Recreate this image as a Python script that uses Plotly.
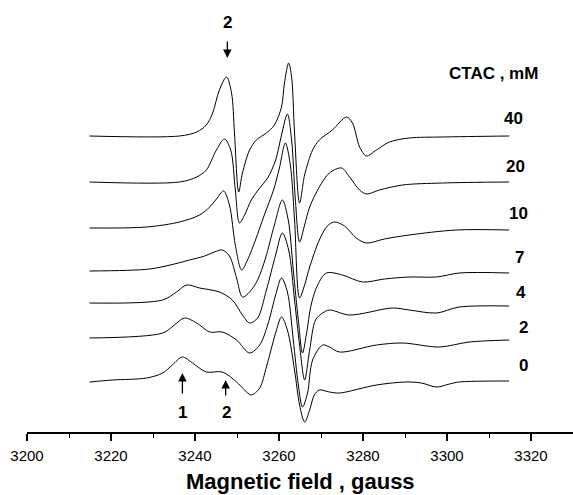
import plotly.graph_objects as go

# CTAC concentrations (mM) labelling each spectrum, top to bottom
CTAC = ["40", "20", "10", "7", "4", "2", "0"]
# vertical offset of each spectrum baseline (arbitrary units)
OFFSETS = [296, 250, 204, 161, 129, 94, 50]

FIELD_40 = [3214.9, 3236.3, 3240.4, 3242.7, 3244.2, 3245.8, 3247.5, 3248.7, 3249.4, 3250.4,
            3251.3, 3253.0, 3254.6, 3257.0, 3258.9, 3260.6, 3261.3, 3262.3, 3263.0, 3263.7,
            3264.9, 3266.1, 3268.0, 3269.6, 3272.7, 3276.1, 3277.5, 3279.2, 3280.8, 3283.2,
            3286.3, 3291.0, 3298.9, 3314.8]
SIG_40 = [0, 0, 4, 11, 23, 46, 59, 43, 3, -56,
          -37, -14, -4, 3, 11, 29, 53, 73, 59, 3,
          -67, -39, -14, -4, 6, 19, 13, -11, -20, -14,
          -6, -2, -1, 0]

FIELD_20 = [3214.9, 3236.3, 3240.4, 3242.7, 3245.1, 3247.0, 3248.5, 3249.6, 3250.6, 3251.8,
            3253.4, 3255.4, 3257.3, 3259.2, 3260.6, 3262.0, 3263.0, 3263.9, 3264.9, 3266.1,
            3267.3, 3269.6, 3272.0, 3274.9, 3276.8, 3279.2, 3280.8, 3283.9, 3289.4, 3298.9,
            3314.8]
SIG_20 = [0, 0, 5, 12, 32, 43, 32, -8, -41, -33,
          -18, -6, 4, 22, 47, 68, 42, -18, -60, -43,
          -25, -5, 9, 14, 5, -8, -12, -8, -3, -1,
          0]

FIELD_10 = [3214.9, 3228.5, 3236.3, 3241.1, 3243.5, 3245.1, 3246.8, 3248.2, 3249.6, 3251.1,
            3252.5, 3254.4, 3256.5, 3258.7, 3260.1, 3261.5, 3262.7, 3263.7, 3264.9, 3266.1,
            3267.3, 3269.6, 3271.5, 3273.2, 3275.6, 3278.4, 3280.8, 3285.1, 3291.0, 3302.2,
            3314.8]
SIG_10 = [0, 1, 6, 13, 21, 29, 37, 23, -17, -42,
          -32, -12, 13, 38, 60, 85, 63, 8, -70, -57,
          -39, -12, 2, 6, 2, -10, -15, -11, -7, -2,
          -2]

FIELD_7 = [3214.9, 3229.2, 3235.1, 3238.7, 3242.3, 3244.6, 3246.5, 3248.2, 3249.9, 3251.3,
           3253.0, 3254.9, 3256.8, 3258.9, 3260.8, 3262.2, 3263.4, 3264.6, 3265.6, 3266.5,
           3267.7, 3269.2, 3271.3, 3275.1, 3279.9, 3285.1, 3291.0, 3297.5, 3302.9, 3314.8]
SIG_7 = [0, 2, 7, 11, 15, 19, 21, 15, -7, -26,
         -21, -9, 13, 46, 71, 51, 1, -49, -82, -64,
         -33, -14, -2, -4, -11, -8, -6, -6, -2, -2]

FIELD_4 = [3214.9, 3232.3, 3235.6, 3238.0, 3241.1, 3245.8, 3248.9, 3251.3, 3253.0, 3254.9,
           3257.0, 3259.2, 3260.8, 3262.3, 3263.7, 3264.9, 3266.1, 3267.3, 3268.7, 3270.4,
           3272.0, 3276.8, 3287.0, 3291.0, 3297.5, 3302.9, 3314.8]
SIG_4 = [0, 3, 11, 18, 15, 11, 3, -12, -20, -15,
         13, 48, 70, 53, 3, -42, -77, -47, -17, -10,
         -7, -12, -5, -7, -10, -4, -3]

FIELD_2 = [3214.9, 3232.3, 3235.1, 3237.5, 3240.4, 3243.5, 3246.5, 3249.9, 3253.0, 3255.4,
           3257.3, 3259.2, 3260.6, 3262.0, 3263.4, 3264.6, 3265.6, 3266.8, 3268.0, 3270.4,
           3272.0, 3274.4, 3283.2, 3289.4, 3298.2, 3305.3, 3314.8]
SIG_2 = [0, 5, 13, 20, 15, 6, 6, -2, -15, -7,
         13, 43, 60, 46, -2, -47, -69, -55, -22, -7,
         -9, -14, -7, -5, -9, -4, -2]

FIELD_0 = [3214.9, 3220.4, 3228.5, 3232.3, 3234.6, 3237.0, 3239.4, 3242.7, 3246.5, 3249.9,
           3251.8, 3253.4, 3255.4, 3257.0, 3258.4, 3259.4, 3260.6, 3262.0, 3263.7, 3264.9,
           3266.1, 3267.3, 3268.4, 3269.6, 3272.0, 3274.4, 3283.2, 3290.3, 3293.9, 3297.5,
           3300.6, 3302.9, 3314.8]
SIG_0 = [0, 2, 4, 9, 17, 25, 19, 10, 10, 0,
         -8, -13, -6, 15, 37, 52, 65, 52, 12, -23,
         -40, -28, -13, -8, -10, -11, -3, 0, -1, -5,
         -2, 0, 1]

FIELDS = [FIELD_40, FIELD_20, FIELD_10, FIELD_7, FIELD_4, FIELD_2, FIELD_0]
SIGNALS = [SIG_40, SIG_20, SIG_10, SIG_7, SIG_4, SIG_2, SIG_0]

X_TICKS = [3200, 3220, 3240, 3260, 3280, 3300, 3320]

# marked line positions (gauss)
ARROW_TOP_2 = 3247.7
ARROW_BOT_1 = 3237.0
ARROW_BOT_2 = 3247.3

FONT = "Liberation Sans, Arial, sans-serif"

fig = go.Figure()
for f, s, off in zip(FIELDS, SIGNALS, OFFSETS):
    fig.add_trace(go.Scatter(
        x=f, y=[v + off for v in s], mode="lines",
        line=dict(color="black", width=1, shape="spline", smoothing=0.9),
        showlegend=False, hoverinfo="skip"))

annotations = []
label_pos = [(3315.8, 314), (3316.3, 266), (3317.0, 219), (3317.2, 175),
             (3317.7, 140), (3318.2, 105), (3318.2, 67)]
for txt, (lx, ly) in zip(CTAC, label_pos):
    annotations.append(dict(x=lx, y=ly, xref="x", yref="y", text=f"<b>{txt}</b>",
                            showarrow=False, font=dict(family=FONT, size=17, color="black")))
annotations.append(dict(x=3311.0, y=359, xref="x", yref="y", text="<b>CTAC , mM</b>",
                        showarrow=False, font=dict(family=FONT, size=17, color="black")))

# arrows
for ax_x, tip_y, dy in [(ARROW_TOP_2, 374, -18), (ARROW_BOT_1, 59, 22), (ARROW_BOT_2, 52, 17)]:
    annotations.append(dict(x=ax_x, y=tip_y, xref="x", yref="y", text="", showarrow=True,
                            ax=0, ay=dy, arrowhead=2, arrowsize=1.3, arrowwidth=1.3,
                            arrowcolor="black", standoff=0, startstandoff=0))
for txt, lx, ly in [("2", ARROW_TOP_2, 410), ("1", ARROW_BOT_1, 20), ("2", ARROW_BOT_2 + 0.2, 20)]:
    annotations.append(dict(x=lx, y=ly, xref="x", yref="y", text=f"<b>{txt}</b>",
                            showarrow=False, font=dict(family=FONT, size=17, color="black")))

annotations.append(dict(x=0.5, y=0, xref="paper", yref="paper", yshift=-49,
                        text="<b>Magnetic field , gauss</b>", showarrow=False,
                        yanchor="middle", xanchor="center",
                        font=dict(family=FONT, size=22, color="black")))

fig.update_layout(
    width=573, height=495,
    margin=dict(l=27, r=0, t=0, b=63),
    paper_bgcolor="white", plot_bgcolor="white",
    annotations=annotations,
    xaxis=dict(range=[3200, 3330], tickvals=X_TICKS, ticktext=[str(v) for v in X_TICKS],
               showgrid=False, zeroline=False, showline=True, linecolor="black", linewidth=1.6,
               ticks="outside", ticklen=7, tickwidth=1.5, tickcolor="black",
               tickfont=dict(family=FONT, size=15, color="black"), ticklabelstandoff=2,
               minor=dict(dtick=10, tick0=3200, ticks="outside", ticklen=4, tickwidth=1.3,
                          tickcolor="black", showgrid=False)),
    yaxis=dict(range=[0, 432], visible=False, showgrid=False, zeroline=False),
)

fig.write_html("out.html")
